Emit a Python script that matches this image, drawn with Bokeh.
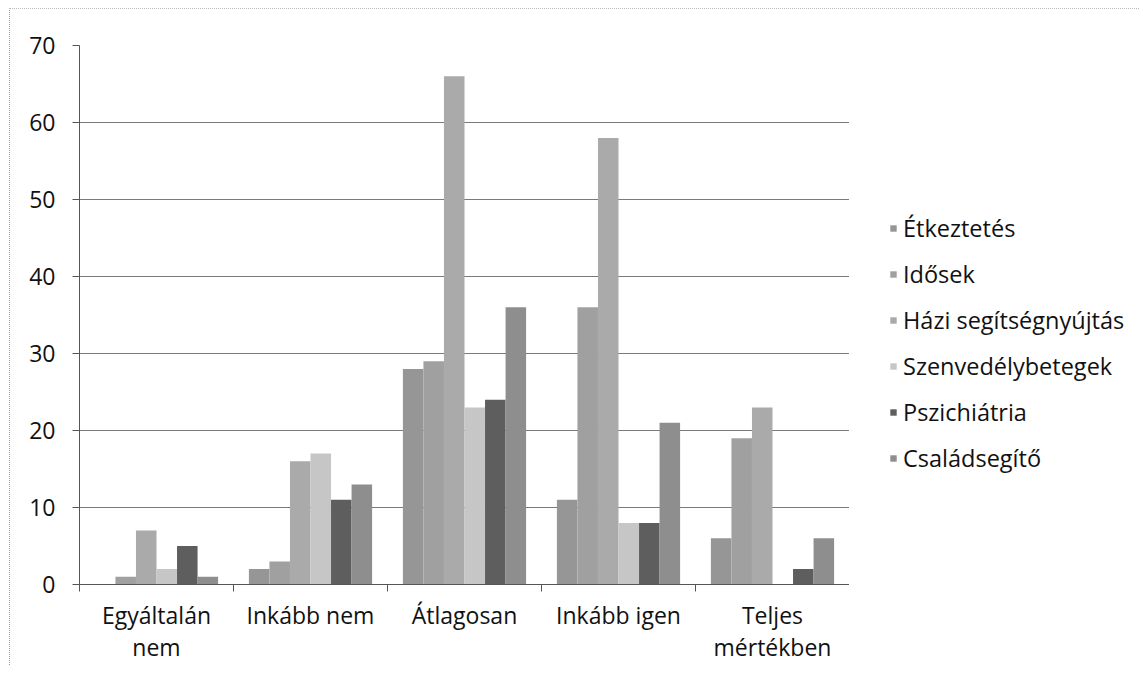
import numpy as np
from bokeh.plotting import figure
from bokeh.layouts import row
from bokeh.models import FixedTicker, Legend, LegendItem, Range1d, ColumnDataSource
from bokeh.embed import file_html
from bokeh.resources import INLINE

categories = ["Egyáltalán\nnem", "Inkább nem", "Átlagosan", "Inkább igen", "Teljes\nmértékben"]
series = ["Étkeztetés", "Idősek", "Házi segítségnyújtás", "Szenvedélybetegek", "Pszichiátria", "Családsegítő"]
etkeztetes = [0, 2, 28, 11, 6]
idosek = [1, 3, 29, 36, 19]
hazi = [7, 16, 66, 58, 23]
szenvedely = [2, 17, 23, 8, 0]
pszichiatria = [5, 11, 24, 8, 2]
csaladsegito = [1, 13, 36, 21, 6]
values = [etkeztetes, idosek, hazi, szenvedely, pszichiatria, csaladsegito]
colors = ["#969696", "#a0a0a0", "#aaaaaa", "#c6c6c6", "#5e5e5e", "#8e8e8e"]
y_ticks = [0, 10, 20, 30, 40, 50, 60, 70]

FONT = "Open Sans"

p = figure(frame_width=770, frame_height=539, output_backend="svg", toolbar_location=None,
           x_range=Range1d(0, len(categories)), y_range=Range1d(0, 70))
p.min_border_left = 69
p.min_border_right = 0
p.min_border_top = 36
p.min_border_bottom = 60
p.outline_line_color = None
p.background_fill_color = "white"

n = len(series)
group_w = 0.8
bw = group_w / n
centers = np.arange(len(categories)) + 0.5
for j, (name, vals, col) in enumerate(zip(series, values, colors)):
    xs = centers - group_w / 2 + bw * (j + 0.5)
    src = ColumnDataSource(dict(x=xs, top=vals))
    p.vbar(x="x", top="top", bottom=0, width=bw, source=src,
           fill_color=col, line_color=None)

# x axis
xa = p.xaxis[0]
xa.ticker = FixedTicker(ticks=list(centers), minor_ticks=list(range(len(categories) + 1)))
xa.major_label_overrides = {float(c): lab for c, lab in zip(centers, categories)}
xa.major_tick_out = 0
xa.major_tick_in = 0
xa.minor_tick_out = 7
xa.minor_tick_in = 0
xa.minor_tick_line_color = "#555555"
xa.axis_line_color = "#555555"
xa.major_label_text_font = FONT
xa.major_label_text_font_size = "23px"
xa.major_label_text_color = "#111111"
xa.major_label_text_line_height = 1.0
xa.major_label_standoff = 7

ya = p.yaxis[0]
ya.ticker = FixedTicker(ticks=y_ticks)
ya.major_tick_out = 7
ya.major_tick_in = 0
ya.minor_tick_out = 0
ya.minor_tick_in = 0
ya.major_tick_line_color = "#555555"
ya.axis_line_color = "#555555"
ya.major_label_text_font = FONT
ya.major_label_text_font_size = "23px"
ya.major_label_text_color = "#111111"
ya.major_label_standoff = 17

p.xgrid.visible = False
p.ygrid.grid_line_color = "#7a7a7a"
p.ygrid.grid_line_width = 1
p.ygrid.ticker = FixedTicker(ticks=y_ticks)

# legend panel
pl = figure(width=290, height=655, output_backend="svg", toolbar_location=None,
            x_range=Range1d(0, 1), y_range=Range1d(0, 1),
            x_axis_type=None, y_axis_type=None)
pl.min_border = 0
pl.outline_line_color = None
pl.xgrid.visible = False
pl.ygrid.visible = False
items = []
for name, col in zip(series, colors):
    r = pl.vbar(x=[5.0], top=[1.0], width=0.1, fill_color=col, line_color=None)
    items.append(LegendItem(label=name, renderers=[r]))

legend = Legend(items=items, location=(40, 109))
legend.border_line_color = None
legend.background_fill_alpha = 0
legend.label_text_font = FONT
legend.label_text_font_size = "23.5px"
legend.label_text_color = "#111111"
legend.glyph_width = 8
legend.glyph_height = 8
legend.label_height = 20
legend.spacing = 14
legend.padding = 0
legend.margin = 0
legend.label_standoff = 6
pl.add_layout(legend, "center")

layout = row(p, pl)
layout.styles = {"margin-left": "9px", "margin-top": "8px",
                 "border-left": "1px dotted #999999", "border-top": "1px dotted #bbbbbb"}

open("out.html", "w").write(file_html(layout, INLINE))
